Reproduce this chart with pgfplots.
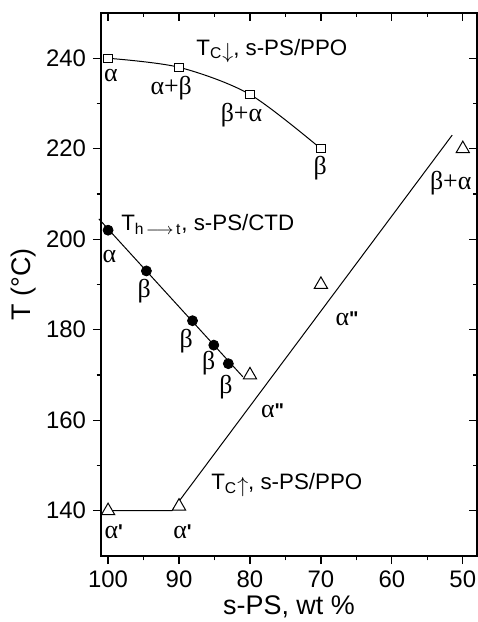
\documentclass[border=0pt]{standalone}
\usepackage{pgfplots}
\pgfplotsset{compat=1.18}
\usepackage{fontspec}
\setmainfont{Liberation Sans}
\newfontfamily\grk{Liberation Serif}
\newcommand{\gk}[1]{{\grk\fontsize{13}{14}\selectfont #1}}

\begin{document}
\begin{tikzpicture}
\pgfplotsset{
  frame/.style={
    width=188bp, height=271.5bp, scale only axis,
    x dir=reverse, xmin=48, xmax=101, ymin=130, ymax=250,
    xtick={50,60,...,100}, ytick={140,160,...,240},
    minor x tick num=1, minor y tick num=1,
    major tick length=4bp, minor tick length=2.2bp,
    axis line style={line width=0.7bp},
    every tick/.style={black, line width=0.6bp},
  },
}
% inner ticks on top and right
\begin{axis}[frame, tick align=inside, xtick pos=right, ytick pos=right,
  xticklabels={}, yticklabels={}]
\end{axis}
\begin{axis}[frame, tick align=outside, xtick pos=left, ytick pos=left,
  clip=false,
  /pgf/number format/assume math mode=true,
  tick label style={font=\fontsize{12}{14}\selectfont},
  label style={font=\fontsize{13.5}{15}\selectfont},
  xlabel={s-PS, wt \%},
  ylabel={T (°C)},
  xlabel style={at={(axis description cs:0.5,0)}, anchor=base, yshift=-29bp},
  ylabel style={at={(axis description cs:-0.1862,0.5)}, anchor=base},
]
\coordinate (bl) at (rel axis cs:0,0);
\coordinate (tr) at (rel axis cs:1,1);

% T_C down, s-PS/PPO
\addplot[black, line width=0.5bp, smooth] coordinates {(100,240) (90,238) (80,232) (70,220)};
\addplot[black, only marks, mark=square*, mark size=2.1bp,
  mark options={fill=white, line width=0.5bp}] coordinates {(100,240) (90,238) (80,232) (70,220)};

% T_h->t, s-PS/CTD
\addplot[black, line width=0.5bp] coordinates {(101.3,204.5) (81,169.6)};
\addplot[black, only marks, mark=*, mark size=2.5bp] coordinates {(100,202) (94.6,193) (88.1,182) (85.1,176.6) (83.05,172.5)};

% T_C up, s-PS/PPO
\addplot[black, line width=0.5bp] coordinates {(100,140) (91,140) (51.5,223)};
\addplot[black, only marks, mark=triangle*, mark size=3.8bp,
  mark options={fill=white, line width=0.5bp}] coordinates {(100,140) (90,141) (80,170) (70,190) (50,220)};

% phase labels
\node at (axis cs:99.6,236.2) {\gk{α}};
\node at (axis cs:91.1,233.3) {\gk{α+β}};
\node at (axis cs:81.2,227.4) {\gk{β+α}};
\node at (axis cs:70.1,215.7) {\gk{β}};
\node at (axis cs:51.7,212.3) {\gk{β+α}};

\node at (axis cs:99.8,196.1) {\gk{α}};
\node at (axis cs:94.9,188.6) {\gk{β}};
\node at (axis cs:89.0,177.4) {\gk{β}};
\node at (axis cs:85.8,172.6) {\gk{β}};
\node at (axis cs:83.4,167.4) {\gk{β}};

\node at (axis cs:66.3,182.5) {\gk{α}\textbf{\textquotedbl}};
\node at (axis cs:76.8,162) {\gk{α}\textbf{\textquotedbl}};
\node at (axis cs:99.2,135.4) {\gk{α}\textbf{\textquotesingle}};
\node at (axis cs:89.5,135.4) {\gk{α}\textbf{\textquotesingle}};

% series captions
\node[anchor=base west, inner sep=0pt, font=\fontsize{11.2}{13}\selectfont]
  at (axis cs:87.6,240.7) {T\textsubscript{C}\raisebox{-0.25ex}{$\downarrow$}, s-PS/PPO};
\node[anchor=base west, inner sep=0pt, font=\fontsize{11.2}{13}\selectfont]
  at (axis cs:98.2,202.0) {T\textsubscript{h\,$\longrightarrow$\,t}, s-PS/CTD};
\node[anchor=base west, inner sep=0pt, font=\fontsize{11.2}{13}\selectfont]
  at (axis cs:85.5,144.6) {T\textsubscript{C}\raisebox{-0.25ex}{$\uparrow$}, s-PS/PPO};
\end{axis}
\pgfresetboundingbox
\path[use as bounding box] ([shift={(-50.5bp,-33bp)}]bl) rectangle ([shift={(0.5bp,6.5bp)}]tr);
\end{tikzpicture}
\end{document}
